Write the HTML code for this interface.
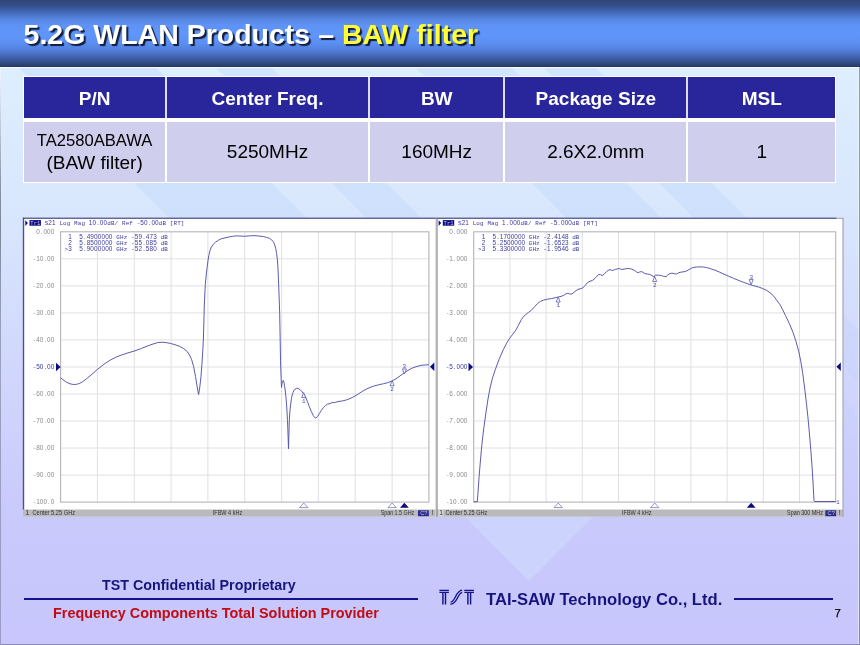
<!DOCTYPE html>
<html>
<head>
<meta charset="utf-8">
<title>5.2G WLAN Products - BAW filter</title>
<style>
html,body{margin:0;padding:0;}
body{width:860px;height:645px;overflow:hidden;position:relative;font-family:"Liberation Sans",sans-serif;
  background:linear-gradient(to bottom,#ddeefe 0px,#ddeefe 68px,#d9e8fd 200px,#d0d6fc 380px,#c9c9fc 520px,#c8c6fc 645px);}
#bgsvg{position:absolute;left:0;top:0;width:860px;height:645px;}
#hdr{position:absolute;left:0;top:0;width:860px;height:67.4px;
  background:linear-gradient(to bottom,#2f4476 0%,#34508c 9%,#4468b8 18%,#5584de 28%,#5e92f6 37%,#6096fb 50%,#5c8ff2 64%,#5280dc 75%,#4266b4 84%,#34508c 92%,#2a3e6e 98%,#26365e 100%);}
#hdrline{position:absolute;left:0;top:67.4px;width:860px;height:1px;background:#f4faff;}
#title{position:absolute;left:23.6px;top:17.8px;font-size:28.5px;font-weight:bold;color:#fff;white-space:nowrap;line-height:33px;
  text-shadow:2px 2px 1px rgba(10,15,40,.9);}
#title span{color:#ffff33;}
#tbl{position:absolute;left:23.4px;top:76.2px;width:812.9px;height:106.8px;background:#fff;}
#tbl div{position:absolute;box-sizing:border-box;text-align:center;white-space:nowrap;}
.th{top:1px;height:40.6px;background:#29259a;color:#fff;font-weight:bold;font-size:19px;line-height:41px;padding-top:1.1px;}
.td{top:45.4px;height:60.2px;background:#cfceed;color:#000;font-size:19px;line-height:60px;padding-top:0.9px;}
.vd{top:1px;height:40.6px;background:#dcdcfc;}
#foot div{position:absolute;white-space:nowrap;font-weight:bold;}
</style>
</head>
<body>
<div id="wrap" style="position:absolute;left:0;top:0;width:860px;height:645px;will-change:transform;">
<svg id="bgsvg" viewBox="0 0 860 645">
  <defs><linearGradient id="sg" gradientUnits="userSpaceOnUse" x1="0" y1="67" x2="0" y2="645"><stop offset="0" stop-color="#8cb4fa" stop-opacity="0.15"/><stop offset="0.3" stop-color="#8cb4fa" stop-opacity="0.13"/><stop offset="0.7" stop-color="#8cb4fa" stop-opacity="0"/></linearGradient></defs>
<polygon points="18,67 155.5,67 733.5,645 596,645" fill="url(#sg)"/>
<polygon points="215.5,67 270.5,67 848.5,645 793.5,645" fill="url(#sg)"/>
<polygon points="415.5,67 510.5,67 1088.5,645 993.5,645" fill="url(#sg)"/>
<polygon points="543,67 595.5,67 1173.5,645 1121,645" fill="url(#sg)"/>
<polygon points="429,481 629,481 529,581" fill="#ccd4fd"/>
</svg>
<div id="hdr"></div>
<div id="hdrline"></div>
<div id="title">5.2G WLAN Products – <span>BAW filter</span></div>

<div id="tbl">
  <div class="th" style="left:1.1px;width:140.2px;">P/N</div>
  <div class="th" style="left:143.8px;width:200.6px;">Center Freq.</div>
  <div class="th" style="left:346.7px;width:133.3px;">BW</div>
  <div class="th" style="left:482px;width:180.8px;">Package Size</div>
  <div class="th" style="left:664.8px;width:147.1px;">MSL</div>
  <div class="vd" style="left:141.3px;width:2.5px;"></div>
  <div class="vd" style="left:344.4px;width:2.3px;"></div>
  <div class="vd" style="left:480px;width:2px;"></div>
  <div class="vd" style="left:662.8px;width:2px;"></div>
  <div class="td" style="left:1.1px;width:140.2px;line-height:22px;padding-top:7.7px;"><span style="font-size:16.6px;">TA2580ABAWA</span><br>(BAW filter)</div>
  <div class="td" style="left:143.8px;width:200.6px;">5250MHz</div>
  <div class="td" style="left:346.7px;width:133.3px;">160MHz</div>
  <div class="td" style="left:482px;width:180.8px;">2.6X2.0mm</div>
  <div class="td" style="left:664.8px;width:147.1px;">1</div>
</div>

<svg id="charts" viewBox="0 0 860 645" style="position:absolute;left:0;top:0;width:860px;height:645px;font-family:'Liberation Mono',monospace;">
<rect x="23" y="218" width="820.3" height="299" fill="#fff"/>
<rect x="23" y="509.5" width="820.3" height="7.3" fill="#babaBc"/>
<rect x="23" y="217.6" width="813.7" height="1.3" fill="#55558c"/>
<rect x="836.7" y="217.8" width="7" height="1.1" fill="#a4a8ba"/>
<rect x="842.4" y="218" width="1.3" height="299" fill="#a4aabc"/>
<rect x="22.8" y="217.6" width="1.4" height="292" fill="#4c4ca0"/>
<rect x="435.3" y="218.6" width="1.1" height="298" fill="#d4d4d4"/>
<rect x="436.4" y="218.6" width="1.2" height="298" fill="#8c8c90"/>
<line x1="97.4" y1="231.8" x2="97.4" y2="502.1" stroke="#e0e0e3" stroke-width="1"/>
<line x1="60.6" y1="258.8" x2="428.9" y2="258.8" stroke="#e0e0e3" stroke-width="1"/>
<line x1="134.3" y1="231.8" x2="134.3" y2="502.1" stroke="#e0e0e3" stroke-width="1"/>
<line x1="60.6" y1="285.9" x2="428.9" y2="285.9" stroke="#e0e0e3" stroke-width="1"/>
<line x1="171.1" y1="231.8" x2="171.1" y2="502.1" stroke="#e0e0e3" stroke-width="1"/>
<line x1="60.6" y1="312.9" x2="428.9" y2="312.9" stroke="#e0e0e3" stroke-width="1"/>
<line x1="207.9" y1="231.8" x2="207.9" y2="502.1" stroke="#e0e0e3" stroke-width="1"/>
<line x1="60.6" y1="339.9" x2="428.9" y2="339.9" stroke="#e0e0e3" stroke-width="1"/>
<line x1="244.7" y1="231.8" x2="244.7" y2="502.1" stroke="#e0e0e3" stroke-width="1"/>
<line x1="60.6" y1="367.0" x2="428.9" y2="367.0" stroke="#e0e0e3" stroke-width="1"/>
<line x1="281.6" y1="231.8" x2="281.6" y2="502.1" stroke="#e0e0e3" stroke-width="1"/>
<line x1="60.6" y1="394.0" x2="428.9" y2="394.0" stroke="#e0e0e3" stroke-width="1"/>
<line x1="318.4" y1="231.8" x2="318.4" y2="502.1" stroke="#e0e0e3" stroke-width="1"/>
<line x1="60.6" y1="421.0" x2="428.9" y2="421.0" stroke="#e0e0e3" stroke-width="1"/>
<line x1="355.2" y1="231.8" x2="355.2" y2="502.1" stroke="#e0e0e3" stroke-width="1"/>
<line x1="60.6" y1="448.0" x2="428.9" y2="448.0" stroke="#e0e0e3" stroke-width="1"/>
<line x1="392.1" y1="231.8" x2="392.1" y2="502.1" stroke="#e0e0e3" stroke-width="1"/>
<line x1="60.6" y1="475.1" x2="428.9" y2="475.1" stroke="#e0e0e3" stroke-width="1"/>
<rect x="60.6" y="231.8" width="368.3" height="270.3" fill="none" stroke="#b4b4ba" stroke-width="1.1"/>
<text x="36.22" y="233.90" font-family="Liberation Sans, sans-serif" font-size="6.45" fill="#8a8a8e">0</text><text x="39.77" y="233.90" font-size="6.20" fill="#8a8a8e">.</text><text x="43.46 47.08 50.70" y="233.90" font-family="Liberation Sans, sans-serif" font-size="6.45" fill="#8a8a8e">000</text>
<text x="32.53" y="260.93" font-size="6.20" fill="#8a8a8e">-</text><text x="36.22 39.84" y="260.93" font-family="Liberation Sans, sans-serif" font-size="6.45" fill="#8a8a8e">10</text><text x="43.39" y="260.93" font-size="6.20" fill="#8a8a8e">.</text><text x="47.08 50.70" y="260.93" font-family="Liberation Sans, sans-serif" font-size="6.45" fill="#8a8a8e">00</text>
<text x="32.53" y="287.96" font-size="6.20" fill="#8a8a8e">-</text><text x="36.22 39.84" y="287.96" font-family="Liberation Sans, sans-serif" font-size="6.45" fill="#8a8a8e">20</text><text x="43.39" y="287.96" font-size="6.20" fill="#8a8a8e">.</text><text x="47.08 50.70" y="287.96" font-family="Liberation Sans, sans-serif" font-size="6.45" fill="#8a8a8e">00</text>
<text x="32.53" y="314.99" font-size="6.20" fill="#8a8a8e">-</text><text x="36.22 39.84" y="314.99" font-family="Liberation Sans, sans-serif" font-size="6.45" fill="#8a8a8e">30</text><text x="43.39" y="314.99" font-size="6.20" fill="#8a8a8e">.</text><text x="47.08 50.70" y="314.99" font-family="Liberation Sans, sans-serif" font-size="6.45" fill="#8a8a8e">00</text>
<text x="32.53" y="342.02" font-size="6.20" fill="#8a8a8e">-</text><text x="36.22 39.84" y="342.02" font-family="Liberation Sans, sans-serif" font-size="6.45" fill="#8a8a8e">40</text><text x="43.39" y="342.02" font-size="6.20" fill="#8a8a8e">.</text><text x="47.08 50.70" y="342.02" font-family="Liberation Sans, sans-serif" font-size="6.45" fill="#8a8a8e">00</text>
<text x="32.53" y="369.05" font-size="6.20" fill="#3636a0">-</text><text x="36.22 39.84" y="369.05" font-family="Liberation Sans, sans-serif" font-size="6.45" fill="#3636a0">50</text><text x="43.39" y="369.05" font-size="6.20" fill="#3636a0">.</text><text x="47.08 50.70" y="369.05" font-family="Liberation Sans, sans-serif" font-size="6.45" fill="#3636a0">00</text>
<text x="32.53" y="396.08" font-size="6.20" fill="#8a8a8e">-</text><text x="36.22 39.84" y="396.08" font-family="Liberation Sans, sans-serif" font-size="6.45" fill="#8a8a8e">60</text><text x="43.39" y="396.08" font-size="6.20" fill="#8a8a8e">.</text><text x="47.08 50.70" y="396.08" font-family="Liberation Sans, sans-serif" font-size="6.45" fill="#8a8a8e">00</text>
<text x="32.53" y="423.11" font-size="6.20" fill="#8a8a8e">-</text><text x="36.22 39.84" y="423.11" font-family="Liberation Sans, sans-serif" font-size="6.45" fill="#8a8a8e">70</text><text x="43.39" y="423.11" font-size="6.20" fill="#8a8a8e">.</text><text x="47.08 50.70" y="423.11" font-family="Liberation Sans, sans-serif" font-size="6.45" fill="#8a8a8e">00</text>
<text x="32.53" y="450.14" font-size="6.20" fill="#8a8a8e">-</text><text x="36.22 39.84" y="450.14" font-family="Liberation Sans, sans-serif" font-size="6.45" fill="#8a8a8e">80</text><text x="43.39" y="450.14" font-size="6.20" fill="#8a8a8e">.</text><text x="47.08 50.70" y="450.14" font-family="Liberation Sans, sans-serif" font-size="6.45" fill="#8a8a8e">00</text>
<text x="32.53" y="477.17" font-size="6.20" fill="#8a8a8e">-</text><text x="36.22 39.84" y="477.17" font-family="Liberation Sans, sans-serif" font-size="6.45" fill="#8a8a8e">90</text><text x="43.39" y="477.17" font-size="6.20" fill="#8a8a8e">.</text><text x="47.08 50.70" y="477.17" font-family="Liberation Sans, sans-serif" font-size="6.45" fill="#8a8a8e">00</text>
<text x="32.53" y="504.20" font-size="6.20" fill="#8a8a8e">-</text><text x="36.22 39.84 43.46" y="504.20" font-family="Liberation Sans, sans-serif" font-size="6.45" fill="#8a8a8e">100</text><text x="47.01" y="504.20" font-size="6.20" fill="#8a8a8e">.</text><text x="50.70" y="504.20" font-family="Liberation Sans, sans-serif" font-size="6.45" fill="#8a8a8e">0</text>
<path d="M25.3,220.3 l2.6,2.8 l-2.6,2.8z" fill="#0a0a82"/>
<rect x="29.5" y="220.1" width="11.4" height="5.6" fill="#0a0a82"/>
<text x="30.3" y="224.9" font-size="6" fill="#c8c8f0" textLength="10" lengthAdjust="spacingAndGlyphs">Tr1</text>
<text x="44.67" y="225.00" font-size="5.90" fill="#3838a0">S</text><text x="48.34 52.02" y="225.00" font-family="Liberation Sans, sans-serif" font-size="6.40" fill="#3838a0">21</text><text x="59.39 63.07 66.75" y="225.00" font-size="5.90" fill="#3838a0">Log</text><text x="74.11 77.79 81.47" y="225.00" font-size="5.90" fill="#3838a0">Mag</text><text x="88.82 92.50" y="225.00" font-family="Liberation Sans, sans-serif" font-size="6.40" fill="#3838a0">10</text><text x="96.19" y="225.00" font-size="5.90" fill="#3838a0">.</text><text x="99.86 103.54" y="225.00" font-family="Liberation Sans, sans-serif" font-size="6.40" fill="#3838a0">00</text><text x="107.23 110.91 114.59" y="225.00" font-size="5.90" fill="#3838a0">dB/</text><text x="121.95 125.63 129.31" y="225.00" font-size="5.90" fill="#3838a0">Ref</text><text x="136.67" y="225.00" font-size="5.90" fill="#3838a0">-</text><text x="140.34 144.02" y="225.00" font-family="Liberation Sans, sans-serif" font-size="6.40" fill="#3838a0">50</text><text x="147.71" y="225.00" font-size="5.90" fill="#3838a0">.</text><text x="151.38 155.06" y="225.00" font-family="Liberation Sans, sans-serif" font-size="6.40" fill="#3838a0">00</text><text x="158.75 162.43" y="225.00" font-size="5.90" fill="#3838a0">dB</text><text x="169.79 173.47 177.15 180.83" y="225.00" font-size="5.90" fill="#3838a0">[RT]</text>
<text x="68.17" y="238.90" font-family="Liberation Sans, sans-serif" font-size="6.40" fill="#3c3ca0">1</text><text x="79.27" y="238.90" font-family="Liberation Sans, sans-serif" font-size="6.40" fill="#3c3ca0">5</text><text x="82.95" y="238.90" font-size="6.00" fill="#3c3ca0">.</text><text x="86.67 90.37 94.07 97.77 101.47 105.17 108.87" y="238.90" font-family="Liberation Sans, sans-serif" font-size="6.40" fill="#3c3ca0">4900000</text><text x="116.25 119.95 123.65" y="238.90" font-size="6.00" fill="#3c3ca0">GHz</text><text x="131.05" y="238.90" font-size="6.00" fill="#3c3ca0">-</text><text x="134.77 138.47" y="238.90" font-family="Liberation Sans, sans-serif" font-size="6.40" fill="#3c3ca0">59</text><text x="142.15" y="238.90" font-size="6.00" fill="#3c3ca0">.</text><text x="145.87 149.57 153.27" y="238.90" font-family="Liberation Sans, sans-serif" font-size="6.40" fill="#3c3ca0">473</text><text x="160.65 164.35" y="238.90" font-size="6.00" fill="#3c3ca0">dB</text>
<text x="68.17" y="244.75" font-family="Liberation Sans, sans-serif" font-size="6.40" fill="#3c3ca0">2</text><text x="79.27" y="244.75" font-family="Liberation Sans, sans-serif" font-size="6.40" fill="#3c3ca0">5</text><text x="82.95" y="244.75" font-size="6.00" fill="#3c3ca0">.</text><text x="86.67 90.37 94.07 97.77 101.47 105.17 108.87" y="244.75" font-family="Liberation Sans, sans-serif" font-size="6.40" fill="#3c3ca0">8500000</text><text x="116.25 119.95 123.65" y="244.75" font-size="6.00" fill="#3c3ca0">GHz</text><text x="131.05" y="244.75" font-size="6.00" fill="#3c3ca0">-</text><text x="134.77 138.47" y="244.75" font-family="Liberation Sans, sans-serif" font-size="6.40" fill="#3c3ca0">55</text><text x="142.15" y="244.75" font-size="6.00" fill="#3c3ca0">.</text><text x="145.87 149.57 153.27" y="244.75" font-family="Liberation Sans, sans-serif" font-size="6.40" fill="#3c3ca0">085</text><text x="160.65 164.35" y="244.75" font-size="6.00" fill="#3c3ca0">dB</text>
<text x="64.45" y="250.60" font-size="6.00" fill="#3c3ca0">&gt;</text><text x="68.17" y="250.60" font-family="Liberation Sans, sans-serif" font-size="6.40" fill="#3c3ca0">3</text><text x="79.27" y="250.60" font-family="Liberation Sans, sans-serif" font-size="6.40" fill="#3c3ca0">5</text><text x="82.95" y="250.60" font-size="6.00" fill="#3c3ca0">.</text><text x="86.67 90.37 94.07 97.77 101.47 105.17 108.87" y="250.60" font-family="Liberation Sans, sans-serif" font-size="6.40" fill="#3c3ca0">9000000</text><text x="116.25 119.95 123.65" y="250.60" font-size="6.00" fill="#3c3ca0">GHz</text><text x="131.05" y="250.60" font-size="6.00" fill="#3c3ca0">-</text><text x="134.77 138.47" y="250.60" font-family="Liberation Sans, sans-serif" font-size="6.40" fill="#3c3ca0">52</text><text x="142.15" y="250.60" font-size="6.00" fill="#3c3ca0">.</text><text x="145.87 149.57 153.27" y="250.60" font-family="Liberation Sans, sans-serif" font-size="6.40" fill="#3c3ca0">580</text><text x="160.65 164.35" y="250.60" font-size="6.00" fill="#3c3ca0">dB</text>
<line x1="509.9" y1="231.8" x2="509.9" y2="502.1" stroke="#e0e0e3" stroke-width="1"/>
<line x1="473.7" y1="258.8" x2="835.7" y2="258.8" stroke="#e0e0e3" stroke-width="1"/>
<line x1="546.1" y1="231.8" x2="546.1" y2="502.1" stroke="#e0e0e3" stroke-width="1"/>
<line x1="473.7" y1="285.9" x2="835.7" y2="285.9" stroke="#e0e0e3" stroke-width="1"/>
<line x1="582.3" y1="231.8" x2="582.3" y2="502.1" stroke="#e0e0e3" stroke-width="1"/>
<line x1="473.7" y1="312.9" x2="835.7" y2="312.9" stroke="#e0e0e3" stroke-width="1"/>
<line x1="618.5" y1="231.8" x2="618.5" y2="502.1" stroke="#e0e0e3" stroke-width="1"/>
<line x1="473.7" y1="339.9" x2="835.7" y2="339.9" stroke="#e0e0e3" stroke-width="1"/>
<line x1="654.7" y1="231.8" x2="654.7" y2="502.1" stroke="#e0e0e3" stroke-width="1"/>
<line x1="473.7" y1="367.0" x2="835.7" y2="367.0" stroke="#e0e0e3" stroke-width="1"/>
<line x1="690.9" y1="231.8" x2="690.9" y2="502.1" stroke="#e0e0e3" stroke-width="1"/>
<line x1="473.7" y1="394.0" x2="835.7" y2="394.0" stroke="#e0e0e3" stroke-width="1"/>
<line x1="727.1" y1="231.8" x2="727.1" y2="502.1" stroke="#e0e0e3" stroke-width="1"/>
<line x1="473.7" y1="421.0" x2="835.7" y2="421.0" stroke="#e0e0e3" stroke-width="1"/>
<line x1="763.3" y1="231.8" x2="763.3" y2="502.1" stroke="#e0e0e3" stroke-width="1"/>
<line x1="473.7" y1="448.0" x2="835.7" y2="448.0" stroke="#e0e0e3" stroke-width="1"/>
<line x1="799.5" y1="231.8" x2="799.5" y2="502.1" stroke="#e0e0e3" stroke-width="1"/>
<line x1="473.7" y1="475.1" x2="835.7" y2="475.1" stroke="#e0e0e3" stroke-width="1"/>
<rect x="473.7" y="231.8" width="362.0" height="270.3" fill="none" stroke="#b4b4ba" stroke-width="1.1"/>
<text x="449.32" y="233.90" font-family="Liberation Sans, sans-serif" font-size="6.45" fill="#8a8a8e">0</text><text x="452.87" y="233.90" font-size="6.20" fill="#8a8a8e">.</text><text x="456.56 460.18 463.80" y="233.90" font-family="Liberation Sans, sans-serif" font-size="6.45" fill="#8a8a8e">000</text>
<text x="445.63" y="260.93" font-size="6.20" fill="#8a8a8e">-</text><text x="449.32" y="260.93" font-family="Liberation Sans, sans-serif" font-size="6.45" fill="#8a8a8e">1</text><text x="452.87" y="260.93" font-size="6.20" fill="#8a8a8e">.</text><text x="456.56 460.18 463.80" y="260.93" font-family="Liberation Sans, sans-serif" font-size="6.45" fill="#8a8a8e">000</text>
<text x="445.63" y="287.96" font-size="6.20" fill="#8a8a8e">-</text><text x="449.32" y="287.96" font-family="Liberation Sans, sans-serif" font-size="6.45" fill="#8a8a8e">2</text><text x="452.87" y="287.96" font-size="6.20" fill="#8a8a8e">.</text><text x="456.56 460.18 463.80" y="287.96" font-family="Liberation Sans, sans-serif" font-size="6.45" fill="#8a8a8e">000</text>
<text x="445.63" y="314.99" font-size="6.20" fill="#8a8a8e">-</text><text x="449.32" y="314.99" font-family="Liberation Sans, sans-serif" font-size="6.45" fill="#8a8a8e">3</text><text x="452.87" y="314.99" font-size="6.20" fill="#8a8a8e">.</text><text x="456.56 460.18 463.80" y="314.99" font-family="Liberation Sans, sans-serif" font-size="6.45" fill="#8a8a8e">000</text>
<text x="445.63" y="342.02" font-size="6.20" fill="#8a8a8e">-</text><text x="449.32" y="342.02" font-family="Liberation Sans, sans-serif" font-size="6.45" fill="#8a8a8e">4</text><text x="452.87" y="342.02" font-size="6.20" fill="#8a8a8e">.</text><text x="456.56 460.18 463.80" y="342.02" font-family="Liberation Sans, sans-serif" font-size="6.45" fill="#8a8a8e">000</text>
<text x="445.63" y="369.05" font-size="6.20" fill="#3636a0">-</text><text x="449.32" y="369.05" font-family="Liberation Sans, sans-serif" font-size="6.45" fill="#3636a0">5</text><text x="452.87" y="369.05" font-size="6.20" fill="#3636a0">.</text><text x="456.56 460.18 463.80" y="369.05" font-family="Liberation Sans, sans-serif" font-size="6.45" fill="#3636a0">000</text>
<text x="445.63" y="396.08" font-size="6.20" fill="#8a8a8e">-</text><text x="449.32" y="396.08" font-family="Liberation Sans, sans-serif" font-size="6.45" fill="#8a8a8e">6</text><text x="452.87" y="396.08" font-size="6.20" fill="#8a8a8e">.</text><text x="456.56 460.18 463.80" y="396.08" font-family="Liberation Sans, sans-serif" font-size="6.45" fill="#8a8a8e">000</text>
<text x="445.63" y="423.11" font-size="6.20" fill="#8a8a8e">-</text><text x="449.32" y="423.11" font-family="Liberation Sans, sans-serif" font-size="6.45" fill="#8a8a8e">7</text><text x="452.87" y="423.11" font-size="6.20" fill="#8a8a8e">.</text><text x="456.56 460.18 463.80" y="423.11" font-family="Liberation Sans, sans-serif" font-size="6.45" fill="#8a8a8e">000</text>
<text x="445.63" y="450.14" font-size="6.20" fill="#8a8a8e">-</text><text x="449.32" y="450.14" font-family="Liberation Sans, sans-serif" font-size="6.45" fill="#8a8a8e">8</text><text x="452.87" y="450.14" font-size="6.20" fill="#8a8a8e">.</text><text x="456.56 460.18 463.80" y="450.14" font-family="Liberation Sans, sans-serif" font-size="6.45" fill="#8a8a8e">000</text>
<text x="445.63" y="477.17" font-size="6.20" fill="#8a8a8e">-</text><text x="449.32" y="477.17" font-family="Liberation Sans, sans-serif" font-size="6.45" fill="#8a8a8e">9</text><text x="452.87" y="477.17" font-size="6.20" fill="#8a8a8e">.</text><text x="456.56 460.18 463.80" y="477.17" font-family="Liberation Sans, sans-serif" font-size="6.45" fill="#8a8a8e">000</text>
<text x="445.63" y="504.20" font-size="6.20" fill="#8a8a8e">-</text><text x="449.32 452.94" y="504.20" font-family="Liberation Sans, sans-serif" font-size="6.45" fill="#8a8a8e">10</text><text x="456.49" y="504.20" font-size="6.20" fill="#8a8a8e">.</text><text x="460.18 463.80" y="504.20" font-family="Liberation Sans, sans-serif" font-size="6.45" fill="#8a8a8e">00</text>
<path d="M438.6,220.3 l2.6,2.8 l-2.6,2.8z" fill="#0a0a82"/>
<rect x="442.8" y="220.1" width="11.4" height="5.6" fill="#0a0a82"/>
<text x="443.6" y="224.9" font-size="6" fill="#c8c8f0" textLength="10" lengthAdjust="spacingAndGlyphs">Tr1</text>
<text x="457.97" y="225.00" font-size="5.90" fill="#3838a0">S</text><text x="461.64 465.32" y="225.00" font-family="Liberation Sans, sans-serif" font-size="6.40" fill="#3838a0">21</text><text x="472.69 476.37 480.05" y="225.00" font-size="5.90" fill="#3838a0">Log</text><text x="487.41 491.09 494.77" y="225.00" font-size="5.90" fill="#3838a0">Mag</text><text x="502.12" y="225.00" font-family="Liberation Sans, sans-serif" font-size="6.40" fill="#3838a0">1</text><text x="505.81" y="225.00" font-size="5.90" fill="#3838a0">.</text><text x="509.48 513.16 516.84" y="225.00" font-family="Liberation Sans, sans-serif" font-size="6.40" fill="#3838a0">000</text><text x="520.53 524.21 527.89" y="225.00" font-size="5.90" fill="#3838a0">dB/</text><text x="535.25 538.93 542.61" y="225.00" font-size="5.90" fill="#3838a0">Ref</text><text x="549.97" y="225.00" font-size="5.90" fill="#3838a0">-</text><text x="553.64" y="225.00" font-family="Liberation Sans, sans-serif" font-size="6.40" fill="#3838a0">5</text><text x="557.33" y="225.00" font-size="5.90" fill="#3838a0">.</text><text x="561.00 564.68 568.36" y="225.00" font-family="Liberation Sans, sans-serif" font-size="6.40" fill="#3838a0">000</text><text x="572.05 575.73" y="225.00" font-size="5.90" fill="#3838a0">dB</text><text x="583.09 586.77 590.45 594.13" y="225.00" font-size="5.90" fill="#3838a0">[RT]</text>
<text x="481.75" y="238.90" font-family="Liberation Sans, sans-serif" font-size="6.40" fill="#3c3ca0">1</text><text x="492.61" y="238.90" font-family="Liberation Sans, sans-serif" font-size="6.40" fill="#3c3ca0">5</text><text x="496.21" y="238.90" font-size="6.00" fill="#3c3ca0">.</text><text x="499.85 503.47 507.09 510.71 514.33 517.95 521.57" y="238.90" font-family="Liberation Sans, sans-serif" font-size="6.40" fill="#3c3ca0">1700000</text><text x="528.79 532.41 536.03" y="238.90" font-size="6.00" fill="#3c3ca0">GHz</text><text x="543.27" y="238.90" font-size="6.00" fill="#3c3ca0">-</text><text x="546.91" y="238.90" font-family="Liberation Sans, sans-serif" font-size="6.40" fill="#3c3ca0">2</text><text x="550.51" y="238.90" font-size="6.00" fill="#3c3ca0">.</text><text x="554.15 557.77 561.39 565.01" y="238.90" font-family="Liberation Sans, sans-serif" font-size="6.40" fill="#3c3ca0">4148</text><text x="572.23 575.85" y="238.90" font-size="6.00" fill="#3c3ca0">dB</text>
<text x="481.75" y="244.75" font-family="Liberation Sans, sans-serif" font-size="6.40" fill="#3c3ca0">2</text><text x="492.61" y="244.75" font-family="Liberation Sans, sans-serif" font-size="6.40" fill="#3c3ca0">5</text><text x="496.21" y="244.75" font-size="6.00" fill="#3c3ca0">.</text><text x="499.85 503.47 507.09 510.71 514.33 517.95 521.57" y="244.75" font-family="Liberation Sans, sans-serif" font-size="6.40" fill="#3c3ca0">2500000</text><text x="528.79 532.41 536.03" y="244.75" font-size="6.00" fill="#3c3ca0">GHz</text><text x="543.27" y="244.75" font-size="6.00" fill="#3c3ca0">-</text><text x="546.91" y="244.75" font-family="Liberation Sans, sans-serif" font-size="6.40" fill="#3c3ca0">1</text><text x="550.51" y="244.75" font-size="6.00" fill="#3c3ca0">.</text><text x="554.15 557.77 561.39 565.01" y="244.75" font-family="Liberation Sans, sans-serif" font-size="6.40" fill="#3c3ca0">6523</text><text x="572.23 575.85" y="244.75" font-size="6.00" fill="#3c3ca0">dB</text>
<text x="478.11" y="250.60" font-size="6.00" fill="#3c3ca0">&gt;</text><text x="481.75" y="250.60" font-family="Liberation Sans, sans-serif" font-size="6.40" fill="#3c3ca0">3</text><text x="492.61" y="250.60" font-family="Liberation Sans, sans-serif" font-size="6.40" fill="#3c3ca0">5</text><text x="496.21" y="250.60" font-size="6.00" fill="#3c3ca0">.</text><text x="499.85 503.47 507.09 510.71 514.33 517.95 521.57" y="250.60" font-family="Liberation Sans, sans-serif" font-size="6.40" fill="#3c3ca0">3300000</text><text x="528.79 532.41 536.03" y="250.60" font-size="6.00" fill="#3c3ca0">GHz</text><text x="543.27" y="250.60" font-size="6.00" fill="#3c3ca0">-</text><text x="546.91" y="250.60" font-family="Liberation Sans, sans-serif" font-size="6.40" fill="#3c3ca0">1</text><text x="550.51" y="250.60" font-size="6.00" fill="#3c3ca0">.</text><text x="554.15 557.77 561.39 565.01" y="250.60" font-family="Liberation Sans, sans-serif" font-size="6.40" fill="#3c3ca0">9546</text><text x="572.23 575.85" y="250.60" font-size="6.00" fill="#3c3ca0">dB</text>
<path d="M60.6,377.8 L66.2,382.1 L70.0,383.8 L73.6,384.5 L76.5,384.3 L79.2,383.6 L82.5,381.8 L86.6,378.7 L92.0,374.2 L97.8,369.1 L104.0,364.2 L110.8,359.8 L115.5,357.4 L120.1,355.5 L127.0,353.2 L135.0,350.8 L141.5,348.4 L148.0,345.8 L153.0,344.0 L157.3,342.7 L160.0,342.4 L162.9,342.3 L166.5,342.7 L170.3,343.4 L175.0,344.7 L179.7,346.4 L183.5,348.5 L187.1,351.4 L189.5,355.0 L191.7,359.8 L193.6,366.5 L195.5,376.5 L197.2,387.0 L198.6,394.6 L199.8,387.0 L201.0,376.5 L202.0,363.0 L202.9,348.6 L203.4,338.0 L203.8,325.0 L204.3,305.0 L205.3,284.7 L206.2,275.0 L207.1,267.6 L208.0,260.5 L208.8,255.7 L210.0,250.5 L211.3,247.2 L213.2,244.3 L215.6,242.1 L218.4,240.2 L221.5,238.6 L225.0,237.9 L229.2,236.9 L232.5,236.3 L236.0,235.9 L240.0,236.0 L244.6,236.3 L249.5,235.9 L254.0,235.6 L259.0,236.0 L263.3,236.6 L266.5,237.3 L269.3,238.3 L271.6,239.8 L273.6,242.1 L274.8,245.0 L275.8,248.9 L276.6,253.5 L277.3,259.1 L277.9,267.0 L278.3,276.2 L279.0,293.2 L279.7,313.7 L280.1,335.0 L280.5,360.2 L281.1,378.4 L281.5,387.4 L282.0,383.5 L282.5,381.4 L283.3,380.4 L283.9,382.2 L284.5,385.4 L285.3,391.0 L286.1,398.5 L286.8,408.0 L287.5,420.7 L288.0,434.0 L288.5,448.9 L288.9,435.0 L289.3,420.7 L289.9,411.0 L290.6,404.6 L291.5,398.2 L292.6,393.5 L293.8,390.8 L295.2,389.0 L296.7,388.3 L298.2,388.4 L300.0,389.5 L301.8,391.5 L303.6,393.8 L305.3,396.5 L307.3,401.2 L309.3,406.6 L311.3,411.5 L313.3,415.6 L314.7,417.5 L315.9,418.1 L317.5,416.6 L319.4,413.6 L321.4,410.3 L323.4,407.6 L325.4,405.5 L327.4,404.2 L330.0,403.6 L332.0,402.6 L334.5,402.5 L338.0,401.6 L342.5,400.9 L346.5,399.9 L350.0,398.5 L352.9,397.2 L358.0,394.2 L363.1,390.8 L368.0,388.3 L373.4,386.2 L378.5,384.8 L383.6,383.7 L387.5,382.7 L391.3,381.4 L395.0,379.4 L399.0,376.7 L404.1,372.9 L408.0,370.4 L411.7,368.3 L417.0,366.4 L422.0,365.2 L428.9,364.7" fill="none" stroke="#5252aa" stroke-width="0.95" stroke-linejoin="round"/>
<path d="M473.9,501.7 L477.3,501.7 L478.2,490.0 L479.1,476.7 L480.4,461.0 L481.9,444.4 L483.8,428.0 L486.0,412.2 L488.0,399.0 L490.0,388.0 L492.5,378.0 L495.2,369.9 L499.0,359.5 L503.3,349.7 L506.3,343.8 L509.3,338.8 L512.3,334.8 L515.4,330.8 L518.4,325.4 L521.4,319.5 L523.5,316.6 L525.5,314.7 L528.5,312.4 L531.5,310.2 L534.5,306.8 L537.6,303.4 L540.5,301.3 L543.6,300.1 L547.5,299.2 L551.7,298.5 L555.0,297.8 L558.5,296.9 L561.0,296.4 L563.8,295.3 L565.8,293.9 L567.8,293.3 L569.8,294.0 L571.8,294.1 L574.5,291.8 L577.9,289.3 L580.0,288.9 L582.7,288.0 L585.0,285.5 L587.5,282.6 L590.0,281.3 L592.8,280.2 L595.8,277.5 L598.6,274.4 L600.4,274.6 L602.1,275.6 L604.1,274.2 L606.5,271.6 L609.1,269.8 L610.8,269.9 L612.6,270.5 L615.5,269.4 L618.4,268.6 L620.2,268.9 L621.9,269.5 L625.0,268.9 L628.8,268.4 L631.7,269.2 L634.7,270.5 L636.5,271.8 L638.1,272.8 L639.8,271.9 L641.6,271.6 L643.3,272.6 L645.1,273.7 L647.5,274.0 L649.8,274.4 L652.0,275.6 L654.0,277.0 L654.8,275.6 L655.6,275.1 L658.5,275.2 L661.4,275.6 L663.7,276.3 L666.0,276.7 L667.8,275.0 L669.5,273.7 L671.2,273.3 L673.0,273.3 L674.8,273.8 L676.5,274.0 L678.2,273.0 L680.0,272.3 L683.0,271.9 L685.8,271.4 L688.7,269.8 L691.6,268.1 L694.0,267.4 L696.3,267.0 L700.0,266.9 L703.3,267.0 L706.8,267.6 L710.2,268.6 L715.0,270.2 L719.5,272.1 L724.0,274.2 L728.8,276.3 L733.5,278.3 L738.1,280.2 L742.8,282.0 L747.4,283.7 L752.1,285.3 L756.0,286.3 L759.1,287.2 L762.8,288.6 L766.0,290.0 L769.0,292.0 L771.9,294.2 L774.3,296.9 L776.5,300.0 L780.0,304.7 L782.8,310.0 L785.5,315.5 L789.3,323.5 L793.1,332.6 L796.0,341.5 L798.8,351.6 L800.8,361.5 L802.6,372.4 L804.5,387.0 L806.4,402.8 L808.0,418.0 L809.4,433.1 L810.8,450.0 L812.1,467.3 L813.1,484.0 L814.0,500.3 L814.4,501.5 L835.7,501.5" fill="none" stroke="#5252aa" stroke-width="0.95" stroke-linejoin="round"/>
<path d="M303.7,392.6 l-2,5 h4z" fill="#fff" stroke="#5050a8" stroke-width="0.75"/><text x="303.7" y="402.6" text-anchor="middle" font-size="6" fill="#5050a8">1</text>
<path d="M392.1,380.7 l-2,5 h4z" fill="#fff" stroke="#5050a8" stroke-width="0.75"/><text x="392.1" y="390.7" text-anchor="middle" font-size="6" fill="#5050a8">2</text>
<path d="M404.4,373.9 l-2,-5 h4z" fill="#fff" stroke="#5050a8" stroke-width="0.75"/><text x="404.4" y="367.9" text-anchor="middle" font-size="6" fill="#5050a8">3</text>
<path d="M558.2,297.1 l-2,5 h4z" fill="#fff" stroke="#5050a8" stroke-width="0.75"/><text x="558.2" y="307.1" text-anchor="middle" font-size="6" fill="#5050a8">1</text>
<path d="M654.7,276.5 l-2,5 h4z" fill="#fff" stroke="#5050a8" stroke-width="0.75"/><text x="654.7" y="286.5" text-anchor="middle" font-size="6" fill="#5050a8">2</text>
<path d="M751.2,284.6 l-2,-5 h4z" fill="#fff" stroke="#5050a8" stroke-width="0.75"/><text x="751.2" y="278.6" text-anchor="middle" font-size="6" fill="#5050a8">3</text>
<path d="M56.0,362.8 l4.6,4.2 l-4.6,4.2z" fill="#0a0a82"/>
<path d="M468.5,362.8 l4.6,4.2 l-4.6,4.2z" fill="#0a0a82"/>
<path d="M434.3,362.6 l-4.4,4.2 l4.4,4.2z" fill="#0a0a82"/>
<path d="M840.8,362.6 l-4.4,4.2 l4.4,4.2z" fill="#0a0a82"/>
<path d="M299.5,507.6 L303.7,503 L307.9,507.6z" fill="#fff" stroke="#7a7ac0" stroke-width="0.8"/>
<path d="M387.9,507.6 L392.1,503 L396.3,507.6z" fill="#fff" stroke="#7a7ac0" stroke-width="0.8"/>
<path d="M400.0,507.8 L404.4,502.8 L408.8,507.8z" fill="#0a0a82"/>
<path d="M554.0,507.6 L558.2,503 L562.4,507.6z" fill="#fff" stroke="#7a7ac0" stroke-width="0.8"/>
<path d="M650.5,507.6 L654.7,503 L658.9,507.6z" fill="#fff" stroke="#7a7ac0" stroke-width="0.8"/>
<path d="M746.8,507.8 L751.2,502.8 L755.6,507.8z" fill="#0a0a82"/>
<text x="836.3" y="503.6" font-size="5.6" fill="#4a4aa4">1</text>
<text x="25.6" y="515.3" font-family="Liberation Sans, sans-serif" font-size="6.7" fill="#323236">1</text>
<text x="32.4" y="515.3" font-family="Liberation Sans, sans-serif" font-size="6.7" fill="#323236" textLength="42.7" lengthAdjust="spacingAndGlyphs">Center 5.25 GHz</text>
<text x="212.8" y="515.3" font-family="Liberation Sans, sans-serif" font-size="6.7" fill="#323236" textLength="29.4" lengthAdjust="spacingAndGlyphs">IFBW 4 kHz</text>
<text x="380.7" y="515.3" font-family="Liberation Sans, sans-serif" font-size="6.7" fill="#323236" textLength="33.5" lengthAdjust="spacingAndGlyphs">Span 1.5 GHz</text>
<rect x="418" y="510.3" width="10.8" height="5.9" fill="#2c2c8c"/>
<text x="420.3" y="515.1" font-family="Liberation Sans, sans-serif" font-size="5.6" fill="#c8c8ee">C?</text>
<text x="431.6" y="515.3" font-family="Liberation Sans, sans-serif" font-size="6.7" fill="#323236">!</text>
<rect x="438.3" y="510.1" width="5" height="6.3" fill="#d8d8da"/>
<text x="439.2" y="515.3" font-family="Liberation Sans, sans-serif" font-size="6.7" fill="#323236">1</text>
<text x="445.6" y="515.3" font-family="Liberation Sans, sans-serif" font-size="6.7" fill="#323236" textLength="41.8" lengthAdjust="spacingAndGlyphs">Center 5.25 GHz</text>
<text x="622" y="515.3" font-family="Liberation Sans, sans-serif" font-size="6.7" fill="#323236" textLength="29.4" lengthAdjust="spacingAndGlyphs">IFBW 4 kHz</text>
<text x="787" y="515.3" font-family="Liberation Sans, sans-serif" font-size="6.7" fill="#323236" textLength="36" lengthAdjust="spacingAndGlyphs">Span 300 MHz</text>
<rect x="825.3" y="510.3" width="10.8" height="5.9" fill="#2c2c8c"/>
<text x="827.6" y="515.1" font-family="Liberation Sans, sans-serif" font-size="5.6" fill="#c8c8ee">C?</text>
<text x="838.8" y="515.3" font-family="Liberation Sans, sans-serif" font-size="6.7" fill="#323236">!</text>
</svg>

<div id="foot">
  <div style="left:102px;top:576.2px;font-size:14.3px;color:#15157f;line-height:18px;">TST Confidential Proprietary</div>
  <div style="left:24px;top:598.1px;width:394px;height:2.1px;background:#12128a;"></div>
  <div style="left:53px;top:603.7px;font-size:14.4px;color:#c00c14;line-height:18px;">Frequency Components Total Solution Provider</div>
  <div style="left:486px;top:590px;font-size:16.6px;color:#15157f;line-height:20px;">TAI-SAW Technology Co., Ltd.</div>
  <div style="left:733.5px;top:597.6px;width:99.5px;height:2.1px;background:#12128a;"></div>
  <div style="left:834.5px;top:605.6px;font-size:11.5px;color:#000;font-weight:normal;line-height:14px;-webkit-text-stroke:0.25px #000;">7</div>
</div>
<svg viewBox="430 585 60 30" style="position:absolute;left:430px;top:585px;width:60px;height:30px;">
<g fill="none" stroke="#14148a">
<path stroke-width="1.15" d="M439.4,590.4 H448.9 M439.4,592.3 H448.9 M464.3,590.4 H474 M464.3,592.3 H474"/>
<path stroke-width="1.45" d="M442.9,592.3 V604.6 M445.5,592.3 V604.6 M467.9,592.3 V604.6 M470.6,592.3 V604.6"/>
<path stroke-width="1.35" d="M450.6,602.2 C455.8,601.4 455.4,590.8 462.2,590.2"/>
<path stroke-width="1.35" d="M450.4,604.3 C458.0,603.8 457.4,593.0 462.2,592.3"/>
</g></svg>
<div style="position:absolute;left:857.7px;top:68px;width:0.9px;height:577px;background:rgba(255,255,255,.45);"></div>
<div style="position:absolute;left:858.6px;top:67px;width:1.4px;height:578px;background:linear-gradient(to bottom,#8e9ab6,#8686b0);"></div>
<div style="position:absolute;left:0;top:643.7px;width:860px;height:1.3px;background:#8a8ab0;"></div>
<div style="position:absolute;left:0;top:68px;width:1.2px;height:577px;background:linear-gradient(to bottom,#f0f7ff 0%,#d4deec 6%,#8c96a6 20%,#7c8696 27%,#98a2bc 45%,#9a9cc6 100%);"></div>
</div>
</body>
</html>
